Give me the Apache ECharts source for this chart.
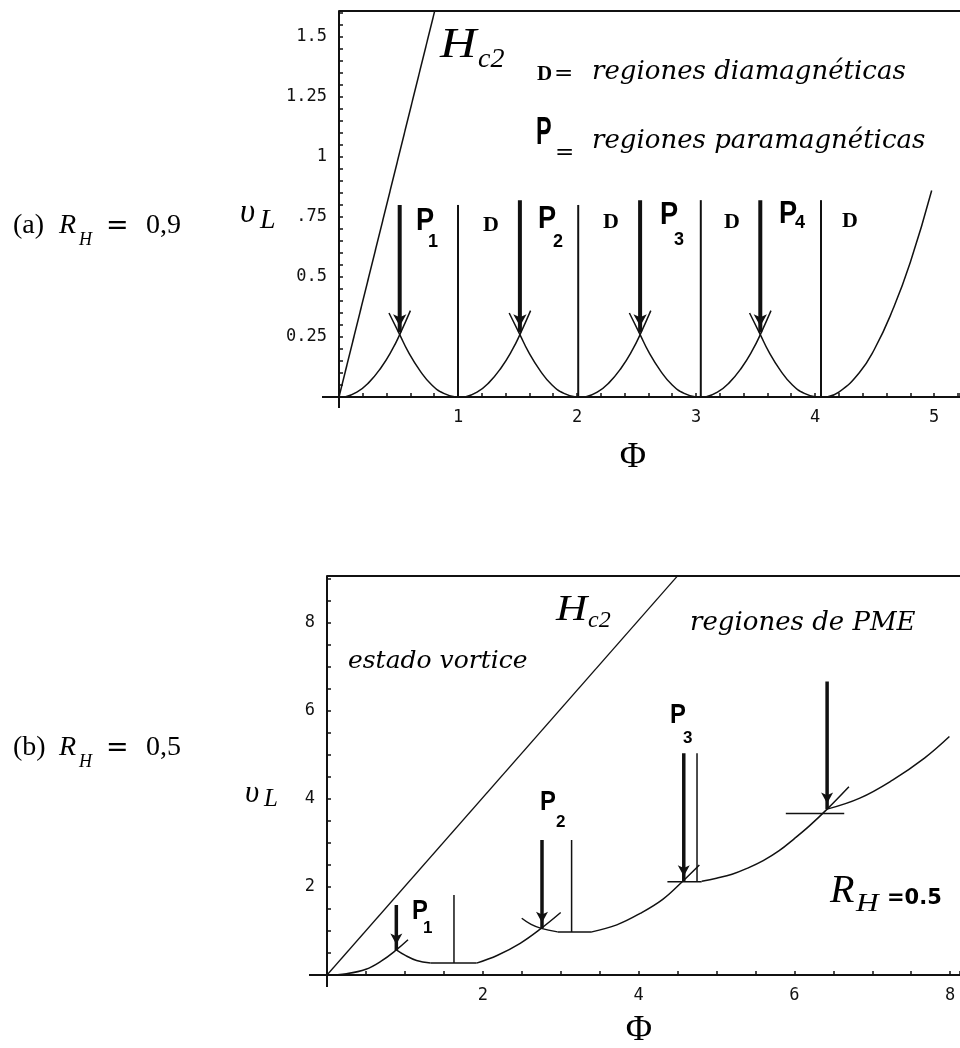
<!DOCTYPE html>
<html>
<head>
<meta charset="utf-8">
<script src="https://cdn.jsdelivr.net/npm/echarts@6/dist/echarts.min.js"></script>
<style>
  html, body { margin: 0; background: #fff; }
  #main { width: 960px; height: 1048px; }
</style>
</head>
<body>
<div id="main"></div>
<script>
// ---- panel (a): R_H = 0,9 ----
const xTicksA = [1, 2, 3, 4, 5];
const yTicksA = [0.25, 0.5, 0.75, 1, 1.25, 1.5];
const yTickTextA = ['0.25', '0.5', '.75', '1', '1.25', '1.5'];
const hc2A = [[0, 0], [0.81, 1.62]];
// parabolic branches between the walls
const arcsA = [
  [[0.05, 0.0], [0.15, 0.02], [0.25, 0.06], [0.35, 0.12], [0.45, 0.2], [0.51, 0.26], [0.6, 0.36]],
  [[0.42, 0.35], [0.51, 0.26], [0.58, 0.19], [0.68, 0.11], [0.78, 0.05], [0.88, 0.015], [0.98, 0.0]],
  [[1.06, 0.0], [1.16, 0.02], [1.26, 0.06], [1.36, 0.12], [1.46, 0.2], [1.52, 0.26], [1.61, 0.36]],
  [[1.43, 0.35], [1.52, 0.26], [1.59, 0.19], [1.69, 0.11], [1.79, 0.05], [1.89, 0.015], [1.99, 0.0]],
  [[2.07, 0.0], [2.17, 0.02], [2.27, 0.06], [2.37, 0.12], [2.47, 0.2], [2.53, 0.26], [2.62, 0.36]],
  [[2.44, 0.35], [2.53, 0.26], [2.6, 0.19], [2.7, 0.11], [2.8, 0.05], [2.9, 0.015], [3.0, 0.0]],
  [[3.08, 0.0], [3.18, 0.02], [3.28, 0.06], [3.38, 0.12], [3.48, 0.2], [3.54, 0.26], [3.63, 0.36]],
  [[3.45, 0.35], [3.54, 0.26], [3.61, 0.19], [3.71, 0.11], [3.81, 0.05], [3.91, 0.015], [4.01, 0.0]],
  [[4.1, 0.0], [4.2, 0.02], [4.37, 0.1], [4.5, 0.2], [4.65, 0.36], [4.8, 0.56], [4.98, 0.86]]
];
const arrowXA = [0.51, 1.52, 2.53, 3.54];
const arrowTopA = [0.80, 0.82, 0.82, 0.82];
const arrowTipA = [0.27, 0.27, 0.27, 0.27];
const wallXA = [1.0, 2.01, 3.04, 4.05];
const wallTopA = [0.80, 0.80, 0.82, 0.82];

// ---- panel (b): R_H = 0,5 ----
const xTicksB = [2, 4, 6, 8];
const yTicksB = [2, 4, 6, 8];
const hc2B = [[0, 0], [4.5, 9.07]];
const curveB = [
  [[0, 0], [0.25, 0.03], [0.5, 0.13], [0.7, 0.32], [0.89, 0.57], [1.04, 0.8]],
  [[0.89, 0.57], [1.0, 0.45], [1.15, 0.33], [1.33, 0.27]],
  [[1.33, 0.27], [1.92, 0.27]],
  [[1.92, 0.27], [2.19, 0.45], [2.48, 0.72], [2.75, 1.06], [3.0, 1.42]],
  [[2.5, 1.29], [2.62, 1.15], [2.75, 1.06], [2.96, 0.98]],
  [[2.96, 0.98], [3.4, 0.98]],
  [[3.4, 0.98], [3.72, 1.14], [4.02, 1.4], [4.31, 1.72], [4.56, 2.12], [4.78, 2.5]],
  [[4.37, 2.12], [4.81, 2.12]],
  [[4.81, 2.13], [5.0, 2.2], [5.2, 2.29], [5.4, 2.43], [5.6, 2.6], [5.8, 2.82], [6.0, 3.1], [6.2, 3.4], [6.42, 3.77], [6.7, 4.28]],
  [[5.89, 3.67], [6.64, 3.67]],
  [[6.42, 3.77], [6.84, 4.02], [7.26, 4.43], [7.67, 4.93], [7.99, 5.42]]
];
const arrowXB = [0.89, 2.76, 4.58, 6.42];
const arrowTopB = [1.59, 3.07, 5.04, 6.67];
const arrowTipB = [0.57, 1.06, 2.12, 3.77];
const wallXB = [1.63, 3.14, 4.75];
const wallLowB = [0.27, 0.98, 2.12];
const wallTopB = [1.82, 3.07, 5.04];

// plot ranges (frame edges)
const X_MAX_A = 5.218, Y_MAX_A = 1.608;
const X_MAX_B = 8.126, Y_MAX_B = 9.068;

const INK = '#111';
const chart = echarts.init(document.getElementById('main'), null, { renderer: 'canvas' });

const pick = (ticks, texts) => (v) => {
  const i = ticks.findIndex((t) => Math.abs(t - v) < 1e-6);
  return i < 0 ? '' : (texts ? texts[i] : String(ticks[i]));
};

const line = (g, data, width, extra) => Object.assign({
  type: 'line', xAxisIndex: g, yAxisIndex: g, data: data,
  symbol: 'none', silent: true, animation: false,
  lineStyle: { color: INK, width: width }
}, extra || {});

const arrow = (g, x, top, tip, w, size) => line(g, [
  { value: [x, top] },
  { value: [x, tip], symbol: 'arrow', symbolRotate: 180, symbolSize: size,
    symbolOffset: [0, -size[1] / 2], itemStyle: { color: INK } }
], w, { itemStyle: { color: INK } });

const tickFont = { color: '#111', fontFamily: '"DejaVu Sans Mono", "Liberation Mono", monospace', fontSize: 17 };
const axisX = (g, max, step, ticks) => ({
  gridIndex: g, type: 'value', min: 0, max: max, interval: step,
  axisLine: { onZero: true, lineStyle: { color: INK, width: 2 } },
  axisTick: { inside: true, length: 4, lineStyle: { color: INK, width: 1.5 } },
  axisLabel: Object.assign({ formatter: pick(ticks), margin: 12 }, tickFont),
  splitLine: { show: false }
});
const axisY = (g, max, step, ticks, texts) => ({
  gridIndex: g, type: 'value', min: 0, max: max, interval: step,
  axisLine: { onZero: true, lineStyle: { color: INK, width: 2 } },
  axisTick: { inside: true, length: 4, lineStyle: { color: INK, width: 1.5 } },
  axisLabel: Object.assign({ formatter: pick(ticks, texts), margin: 12 }, tickFont),
  splitLine: { show: false }
});

const series = [];
// panel (a)
series.push(line(0, [[0, Y_MAX_A], [X_MAX_A, Y_MAX_A]], 2, { clip: false }));
series.push(line(0, hc2A, 1.5));
arcsA.forEach((a) => series.push(line(0, a, 1.5, { smooth: true })));
wallXA.forEach((x, i) => series.push(line(0, [[x, 0], [x, wallTopA[i]]], 2)));
arrowXA.forEach((x, i) => series.push(arrow(0, x, arrowTopA[i], arrowTipA[i], 4, [10, 12])));
// panel (b)
series.push(line(1, [[0, Y_MAX_B], [X_MAX_B, Y_MAX_B]], 2, { clip: false }));
series.push(line(1, hc2B, 1.3));
curveB.forEach((c) => series.push(line(1, c, 1.5, { smooth: c.length > 2 ? 0.4 : false })));
wallXB.forEach((x, i) => series.push(line(1, [[x, wallLowB[i]], [x, wallTopB[i]]], 1.5)));
arrowXB.forEach((x, i) => series.push(arrow(1, x, arrowTopB[i], arrowTipB[i], 3.5, [9, 11])));

const T = (x, y, text, font, extra) => Object.assign({
  type: 'text', x: x, y: y, silent: true,
  style: { text: text, font: font, fill: '#000', align: 'left', verticalAlign: 'middle' }
}, extra || {});
const C = (x, y, text, font) => ({
  type: 'text', x: x, y: y, silent: true,
  style: { text: text, font: font, fill: '#000', align: 'center', verticalAlign: 'middle' }
});
// short axis stubs past the origin (Mathematica axes cross there)
const stub = (x1, y1, x2, y2) => ({
  type: 'line', silent: true, shape: { x1: x1, y1: y1, x2: x2, y2: y2 },
  style: { stroke: INK, lineWidth: 2 }
});

const SERIF = '"Liberation Serif", "DejaVu Serif", serif';
const WIDE = '"DejaVu Serif", serif';
const SANS = '"Liberation Sans", Arial, sans-serif';

const texts = [
  stub(322, 397, 340, 397), stub(339, 396, 339, 408),
  stub(309, 975, 328, 975), stub(327, 974, 327, 987),
  // side captions
  T(13, 226, '(a)', '28px ' + SERIF),
  T(59, 226, 'R', 'italic 28px ' + SERIF),
  T(79, 240, 'H', 'italic 18px ' + SERIF),
  T(106, 227, '=', '27px ' + WIDE),
  T(146, 226, '0,9', '28px ' + SERIF),
  T(13, 748, '(b)', '28px ' + SERIF),
  T(59, 748, 'R', 'italic 28px ' + SERIF),
  T(79, 762, 'H', 'italic 18px ' + SERIF),
  T(106, 749, '=', '27px ' + WIDE),
  T(146, 748, '0,5', '28px ' + SERIF),
  // axis names
  T(240, 213, 'υ', 'italic 33px ' + SERIF),
  T(260, 221, 'L', 'italic 28px ' + SERIF),
  C(633, 458, 'Φ', '36px ' + SERIF),
  T(245, 794, 'υ', 'italic 31px ' + SERIF),
  T(264, 799, 'L', 'italic 25px ' + SERIF),
  C(639, 1031, 'Φ', '36px ' + SERIF),
  // panel (a) annotations
  T(440, 46, 'H', 'italic 42px ' + SERIF, { scaleX: 1.2 }),
  T(478, 60, 'c2', 'italic 28px ' + SERIF),
  T(537, 75, 'D', 'bold 21px ' + SERIF),
  T(554, 74, '=', '23px ' + WIDE),
  T(592, 72, 'regiones diamagnéticas', 'italic 26px ' + WIDE),
  T(536, 133, 'P', 'bold 39px ' + SANS, { scaleX: 0.6 }),
  T(555, 153, '=', '23px ' + WIDE),
  T(592, 141, 'regiones paramagnéticas', 'italic 26px ' + WIDE),
  T(416, 221, 'P', 'bold 32px ' + SANS, { scaleX: 0.85 }),
  T(428, 242, '1', 'bold 18px ' + SANS),
  T(538, 219, 'P', 'bold 32px ' + SANS, { scaleX: 0.85 }),
  T(553, 242, '2', 'bold 18px ' + SANS),
  T(660, 215, 'P', 'bold 32px ' + SANS, { scaleX: 0.85 }),
  T(674, 240, '3', 'bold 18px ' + SANS),
  T(779, 214, 'P', 'bold 32px ' + SANS, { scaleX: 0.85 }),
  T(795, 223, '4', 'bold 18px ' + SANS),
  T(483, 225, 'D', 'bold 22px ' + SERIF),
  T(603, 222, 'D', 'bold 22px ' + SERIF),
  T(724, 222, 'D', 'bold 22px ' + SERIF),
  T(842, 221, 'D', 'bold 22px ' + SERIF),
  // panel (b) annotations
  T(556, 611, 'H', 'italic 36px ' + SERIF, { scaleX: 1.2 }),
  T(588, 621, 'c2', 'italic 24px ' + SERIF),
  T(690, 623, 'regiones de PME', 'italic 26px ' + WIDE),
  T(348, 661, 'estado vortice', 'italic 25px ' + WIDE),
  T(412, 911, 'P', 'bold 28px ' + SANS, { scaleX: 0.85 }),
  T(423, 928, '1', 'bold 17px ' + SANS),
  T(540, 802, 'P', 'bold 28px ' + SANS, { scaleX: 0.85 }),
  T(556, 822, '2', 'bold 17px ' + SANS),
  T(670, 715, 'P', 'bold 28px ' + SANS, { scaleX: 0.85 }),
  T(683, 738, '3', 'bold 17px ' + SANS),
  T(830, 891, 'R', 'italic 40px ' + SERIF),
  T(856, 904, 'H', 'italic 25px ' + SERIF, { scaleX: 1.25 }),
  T(887, 899, '=0.5', 'bold 21px "DejaVu Sans", sans-serif')
];

chart.setOption({
  backgroundColor: '#fff',
  animation: false,
  grid: [
    { left: 339, top: 11, width: 621, height: 386, containLabel: false, outerBoundsMode: 'none' },
    { left: 327, top: 576, width: 633, height: 399, containLabel: false, outerBoundsMode: 'none' }
  ],
  xAxis: [
    axisX(0, X_MAX_A, 0.2, xTicksA),
    axisX(1, X_MAX_B, 0.5, xTicksB)
  ],
  yAxis: [
    axisY(0, Y_MAX_A, 0.05, yTicksA, yTickTextA),
    axisY(1, Y_MAX_B, 0.5, yTicksB)
  ],
  series: series,
  graphic: texts
});
</script>
</body>
</html>
